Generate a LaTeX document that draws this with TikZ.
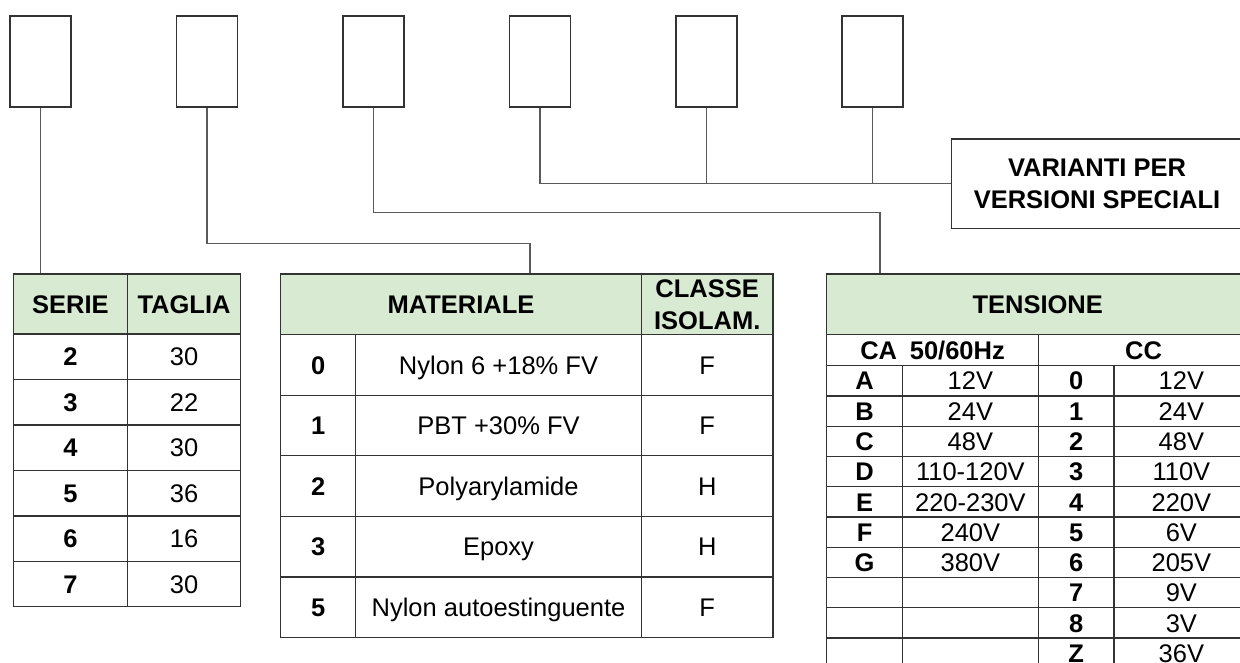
\documentclass[tikz,border=0pt]{standalone}
\usepackage{fontspec}
\setmainfont{Liberation Sans}
\definecolor{hdr}{HTML}{D9EAD3}
\definecolor{grid}{HTML}{333333}
\definecolor{wire}{HTML}{5A5A5A}
\tikzset{
  fs/.style={font=\fontsize{25.5}{32}\selectfont},
  fsb/.style={font=\fontsize{25.5}{32}\selectfont\bfseries},
  cellbase/.style={draw=grid, line width=1.4pt, rectangle, inner sep=0pt, anchor=north west},
  cell/.style={cellbase, fs, text height=18.3pt, text depth=0pt},
  bcell/.style={cellbase, fsb, text height=18.3pt, text depth=0pt},
  hcell/.style={bcell, fill=hdr},
  hcelltwo/.style={cellbase, fsb, fill=hdr, align=center},
  topbox/.style={draw=grid, line width=1.5pt, rectangle, inner sep=0pt, anchor=north west, minimum width=61pt, minimum height=91pt},
  varbox/.style={draw=grid, line width=1.4pt, rectangle, inner sep=0pt, anchor=north west, fsb, align=center, minimum width=291.3pt, minimum height=89.4pt},
  wireline/.style={draw=wire, line width=1.2pt},
}
\begin{document}
\begin{tikzpicture}[x=1pt, y=-1pt]
\useasboundingbox (0,0) rectangle (1240,662);
\clip (0,0) rectangle (1240,662);

% top boxes
\node[topbox] (b1) at (9.3,15) {};
\node[topbox] (b2) at (175.7,15) {};
\node[topbox] (b3) at (342.3,15) {};
\node[topbox] (b4) at (508.7,15) {};
\node[topbox] (b5) at (675,15) {};
\node[topbox] (b6) at (841.3,15) {};

% varianti box
\node[varbox] (var) at (950.7,138.3) {VARIANTI PER\\VERSIONI SPECIALI};

% SERIE / TAGLIA table
\node[hcell, minimum width=114pt, minimum height=60pt] (serieH) at (12.7,273.3) {SERIE};
\node[hcell, minimum width=113.3pt, minimum height=60pt] (tagliaH) at (126.7,273.3) {TAGLIA};
\foreach \c/\v [count=\i from 0] in {2/30, 3/22, 4/30, 5/36, 6/16, 7/30}{
  \pgfmathsetmacro\yy{333.3+45.45*\i}
  \node[bcell, minimum width=114pt, minimum height=45.45pt] (sc\i) at (12.7,\yy) {\c};
  \node[cell, minimum width=113.3pt, minimum height=45.45pt] (sv\i) at (126.7,\yy) {\v};
}

% MATERIALE table
\node[hcell, minimum width=360.7pt, minimum height=60.7pt] (matH) at (280,273.3) {MATERIALE};
\node[hcelltwo, minimum width=131.6pt, minimum height=60.7pt] (clsH) at (640.7,273.3) {CLASSE\\ISOLAM.};
\foreach \c/\m/\k [count=\i from 0] in {0/Nylon 6 +18\% FV/F, 1/PBT +30\% FV/F, 2/Polyarylamide/H, 3/Epoxy/H, 5/Nylon autoestinguente/F}{
  \pgfmathsetmacro\yy{334+60.54*\i}
  \node[bcell, minimum width=75pt, minimum height=60.54pt] (mc\i) at (280,\yy) {\c};
  \node[cell, minimum width=285.7pt, minimum height=60.54pt] (mm\i) at (355,\yy) {\m};
  \node[cell, minimum width=131.6pt, minimum height=60.54pt] (mk\i) at (640.7,\yy) {\k};
}

% TENSIONE table
\node[hcell, minimum width=422pt, minimum height=60.7pt] (tensH) at (826,273.3) {TENSIONE};
\node[bcell, minimum width=211.7pt, minimum height=31pt] (caH) at (826,334) {CA\hspace{0.5em}50/60Hz};
\node[bcell, minimum width=210.3pt, minimum height=31pt] (ccH) at (1037.7,334) {CC};
\foreach \a/\av/\d/\dv [count=\i from 0] in {A/12V/0/12V, B/24V/1/24V, C/48V/2/48V, D/110-120V/3/110V, E/220-230V/4/220V, F/240V/5/6V, G/380V/6/205V, {}/{}/7/9V, {}/{}/8/3V, {}/{}/Z/36V}{
  \pgfmathsetmacro\yy{365+30.26*\i}
  \node[bcell, minimum width=75.7pt, minimum height=30.26pt] (ta\i) at (826,\yy) {\a};
  \node[cell, minimum width=136pt, minimum height=30.26pt] (tav\i) at (901.7,\yy) {\av};
  \node[bcell, minimum width=75.6pt, minimum height=30.26pt] (tc\i) at (1037.7,\yy) {\d};
  \node[cell, minimum width=134.7pt, minimum height=30.26pt] (tcv\i) at (1113.3,\yy) {\dv};
}

% connectors
\coordinate (k2) at (530,243.7);
\coordinate (k3) at (880,212.7);
\draw[wireline] (b1.south) -- (b1.south |- serieH.north);
\draw[wireline] (b2.south) |- (k2) -- (k2 |- matH.north);
\draw[wireline] (b3.south) |- (k3) -- (k3 |- tensH.north);
\draw[wireline] (b4.south) |- (var.west);
\draw[wireline] (b5.south) -- (b5.south |- var.west);
\draw[wireline] (b6.south) -- (b6.south |- var.west);
\end{tikzpicture}
\end{document}
